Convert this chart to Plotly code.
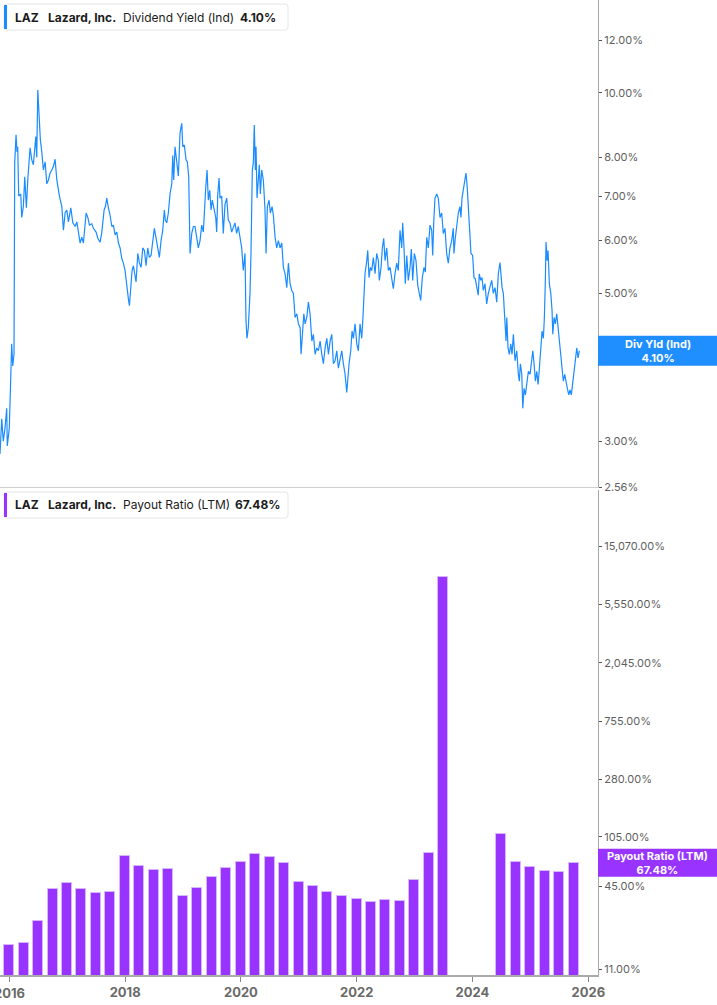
import math
import pandas as pd
import plotly.graph_objects as go

# ---------------- data ----------------
# Dividend yield (Ind), % — time stamps as decimal years
yield_t = [
    2015.839, 2015.869, 2015.896, 2015.926, 2015.955, 2015.965, 2016.000, 2016.024, 2016.041, 2016.059,
    2016.081, 2016.093, 2016.116, 2016.133, 2016.145, 2016.162, 2016.197, 2016.214, 2016.242, 2016.266,
    2016.294, 2016.318, 2016.358, 2016.387, 2016.415, 2016.456, 2016.473, 2016.491, 2016.508, 2016.535,
    2016.560, 2016.587, 2016.617, 2016.646, 2016.674, 2016.703, 2016.732, 2016.760, 2016.789, 2016.819,
    2016.864, 2016.905, 2016.933, 2016.962, 2016.991, 2017.019, 2017.060, 2017.095, 2017.135, 2017.164,
    2017.192, 2017.221, 2017.250, 2017.278, 2017.325, 2017.354, 2017.382, 2017.423, 2017.451, 2017.497,
    2017.527, 2017.567, 2017.596, 2017.636, 2017.658, 2017.682, 2017.710, 2017.739, 2017.769, 2017.796,
    2017.826, 2017.855, 2017.883, 2017.912, 2017.941, 2017.969, 2017.998, 2018.028, 2018.055, 2018.073,
    2018.097, 2018.119, 2018.142, 2018.166, 2018.188, 2018.218, 2018.245, 2018.275, 2018.304, 2018.332,
    2018.361, 2018.390, 2018.418, 2018.447, 2018.477, 2018.504, 2018.534, 2018.563, 2018.591, 2018.620,
    2018.649, 2018.677, 2018.694, 2018.718, 2018.746, 2018.775, 2018.805, 2018.822, 2018.839, 2018.862,
    2018.891, 2018.919, 2018.948, 2018.978, 2018.995, 2019.022, 2019.052, 2019.074, 2019.098, 2019.109,
    2019.121, 2019.150, 2019.178, 2019.207, 2019.237, 2019.264, 2019.294, 2019.323, 2019.351, 2019.368,
    2019.392, 2019.415, 2019.437, 2019.461, 2019.484, 2019.506, 2019.535, 2019.565, 2019.582, 2019.599,
    2019.622, 2019.639, 2019.668, 2019.696, 2019.725, 2019.755, 2019.782, 2019.812, 2019.841, 2019.869,
    2019.898, 2019.927, 2019.955, 2019.984, 2020.014, 2020.041, 2020.071, 2020.088, 2020.105, 2020.128,
    2020.157, 2020.174, 2020.197, 2020.214, 2020.231, 2020.249, 2020.261, 2020.278, 2020.301, 2020.318,
    2020.335, 2020.359, 2020.387, 2020.416, 2020.434, 2020.456, 2020.485, 2020.508, 2020.537, 2020.560,
    2020.589, 2020.618, 2020.646, 2020.675, 2020.705, 2020.732, 2020.762, 2020.791, 2020.819, 2020.848,
    2020.877, 2020.905, 2020.934, 2020.964, 2020.991, 2021.021, 2021.038, 2021.060, 2021.085, 2021.107,
    2021.136, 2021.164, 2021.193, 2021.223, 2021.250, 2021.280, 2021.309, 2021.337, 2021.366, 2021.396,
    2021.423, 2021.453, 2021.482, 2021.510, 2021.539, 2021.568, 2021.596, 2021.625, 2021.655, 2021.682,
    2021.712, 2021.741, 2021.769, 2021.798, 2021.827, 2021.845, 2021.867, 2021.896, 2021.919, 2021.941,
    2021.971, 2022.000, 2022.028, 2022.057, 2022.086, 2022.104, 2022.126, 2022.143, 2022.173, 2022.190,
    2022.212, 2022.235, 2022.259, 2022.287, 2022.316, 2022.345, 2022.373, 2022.390, 2022.420, 2022.442,
    2022.466, 2022.489, 2022.518, 2022.546, 2022.575, 2022.604, 2022.632, 2022.661, 2022.691, 2022.718,
    2022.748, 2022.777, 2022.794, 2022.817, 2022.839, 2022.864, 2022.891, 2022.921, 2022.943, 2022.967,
    2022.995, 2023.024, 2023.054, 2023.081, 2023.105, 2023.133, 2023.162, 2023.185, 2023.209, 2023.237,
    2023.266, 2023.295, 2023.313, 2023.330, 2023.352, 2023.382, 2023.409, 2023.439, 2023.468, 2023.496,
    2023.525, 2023.554, 2023.582, 2023.611, 2023.641, 2023.668, 2023.680, 2023.703, 2023.727, 2023.755,
    2023.784, 2023.801, 2023.819, 2023.841, 2023.870, 2023.888, 2023.910, 2023.934, 2023.957, 2023.974,
    2024.003, 2024.026, 2024.048, 2024.073, 2024.100, 2024.117, 2024.142, 2024.164, 2024.187, 2024.216,
    2024.245, 2024.273, 2024.302, 2024.332, 2024.359, 2024.389, 2024.418, 2024.446, 2024.475, 2024.492,
    2024.510, 2024.532, 2024.556, 2024.579, 2024.591, 2024.613, 2024.636, 2024.660, 2024.682, 2024.705,
    2024.734, 2024.763, 2024.791, 2024.808, 2024.826, 2024.850, 2024.867, 2024.889, 2024.912, 2024.936,
    2024.964, 2024.993, 2025.022, 2025.040, 2025.062, 2025.085, 2025.109, 2025.131, 2025.154, 2025.178,
    2025.200, 2025.223, 2025.240, 2025.257, 2025.269, 2025.287, 2025.304, 2025.326, 2025.351, 2025.373,
    2025.385, 2025.408, 2025.430, 2025.454, 2025.477, 2025.499, 2025.523, 2025.546, 2025.568, 2025.592,
    2025.615, 2025.637, 2025.662, 2025.684, 2025.706, 2025.731, 2025.753, 2025.776, 2025.800, 2025.822,
    2025.845,
]
yield_v = [
    2.87, 3.24, 3.00, 3.14, 3.36, 2.95, 3.14, 3.82, 4.20, 3.89,
    4.05, 7.85, 8.65, 8.15, 8.30, 7.00, 7.05, 6.50, 6.75, 7.48,
    6.72, 7.40, 8.27, 7.93, 7.80, 8.60, 8.00, 10.10, 9.20, 8.50,
    8.15, 7.66, 7.88, 7.30, 7.40, 7.58, 7.66, 7.75, 7.95, 7.40,
    7.00, 6.75, 6.22, 6.60, 6.67, 6.40, 6.72, 6.38, 6.30, 6.40,
    6.18, 5.95, 6.07, 5.95, 6.60, 6.50, 6.33, 6.36, 6.26, 6.18,
    6.05, 5.97, 6.18, 6.67, 6.75, 6.95, 6.72, 6.55, 6.30, 6.33,
    6.12, 6.18, 5.95, 5.85, 5.64, 5.55, 5.41, 5.08, 4.91, 4.79,
    5.10, 5.41, 5.50, 5.35, 5.20, 5.74, 5.56, 5.47, 5.85, 5.80,
    5.50, 5.85, 5.66, 5.70, 5.95, 6.26, 6.05, 5.85, 5.66, 6.00,
    6.22, 6.67, 6.44, 6.38, 6.60, 7.05, 7.30, 8.05, 7.40, 8.30,
    7.88, 7.50, 8.70, 9.00, 8.30, 8.35, 7.93, 7.88, 7.48, 6.44,
    5.74, 6.15, 6.30, 6.30, 6.07, 5.85, 6.00, 6.33, 6.18, 6.75,
    7.20, 7.66, 6.90, 7.14, 6.67, 6.90, 6.72, 6.50, 6.18, 7.00,
    7.45, 6.95, 7.00, 6.15, 6.80, 6.95, 6.44, 6.38, 6.18, 6.30,
    6.38, 6.15, 6.30, 6.07, 5.85, 5.41, 5.74, 4.55, 4.28, 4.44,
    5.00, 5.74, 7.66, 7.85, 8.95, 7.66, 8.30, 6.95, 7.48, 7.80,
    7.05, 7.66, 7.40, 6.67, 5.74, 6.75, 6.90, 6.60, 6.75, 6.55,
    6.07, 5.85, 6.00, 5.85, 5.95, 5.47, 5.35, 5.10, 5.55, 5.17,
    5.05, 5.00, 4.60, 4.66, 4.50, 4.44, 4.05, 4.39, 4.66, 4.50,
    4.60, 4.85, 4.66, 4.24, 4.34, 4.05, 4.14, 4.10, 4.24, 4.05,
    3.92, 4.14, 4.28, 4.05, 4.24, 4.34, 3.92, 3.96, 4.10, 3.86,
    4.00, 4.10, 3.92, 3.78, 3.55, 3.78, 3.92, 4.10, 4.39, 4.28,
    4.50, 4.20, 4.10, 4.50, 4.28, 4.55, 5.10, 5.35, 5.60, 5.80,
    5.28, 5.47, 5.41, 5.66, 5.35, 5.74, 5.60, 5.23, 5.47, 5.85,
    6.05, 5.60, 5.85, 5.41, 5.47, 5.28, 5.08, 5.35, 5.55, 5.41,
    6.22, 5.85, 6.38, 5.85, 5.17, 5.70, 5.23, 5.47, 5.83, 5.23,
    5.74, 5.60, 5.14, 5.00, 4.88, 5.28, 5.47, 5.38, 6.07, 5.85,
    6.33, 6.22, 5.70, 6.38, 6.95, 7.05, 6.95, 6.50, 6.60, 6.15,
    6.26, 5.74, 5.55, 5.85, 6.00, 6.26, 5.74, 6.05, 6.30, 6.60,
    6.75, 6.50, 6.95, 7.14, 7.30, 7.58, 7.20, 6.50, 6.22, 5.74,
    5.70, 5.28, 5.26, 5.08, 4.97, 5.35, 5.23, 5.28, 5.05, 5.17,
    4.82, 5.00, 5.10, 5.23, 5.00, 5.10, 4.85, 5.35, 5.56, 5.35,
    5.10, 5.00, 4.55, 4.24, 4.60, 4.14, 4.05, 4.20, 4.05, 4.34,
    3.96, 4.10, 3.78, 3.69, 3.92, 3.78, 3.36, 3.60, 3.52, 3.69,
    3.82, 3.78, 4.00, 4.10, 3.92, 3.69, 3.82, 3.65, 3.86, 4.14,
    4.39, 4.28, 4.60, 5.23, 5.97, 5.60, 5.80, 5.17, 5.00, 4.71,
    4.34, 4.60, 4.50, 4.66, 4.44, 4.20, 4.00, 3.86, 3.69, 3.78,
    3.65, 3.60, 3.52, 3.58, 3.52, 3.69, 3.86, 4.05, 4.14, 4.00,
    4.10,
]

# Payout ratio (LTM), %, quarterly
bar_dates = [
    "2015-12-31", "2016-03-31", "2016-06-30", "2016-09-30", "2016-12-31",
    "2017-03-31", "2017-06-30", "2017-09-30", "2017-12-31",
    "2018-03-31", "2018-06-30", "2018-09-30", "2018-12-31",
    "2019-03-31", "2019-06-30", "2019-09-30", "2019-12-31",
    "2020-03-31", "2020-06-30", "2020-09-30", "2020-12-31",
    "2021-03-31", "2021-06-30", "2021-09-30", "2021-12-31",
    "2022-03-31", "2022-06-30", "2022-09-30", "2022-12-31",
    "2023-03-31", "2023-06-30", "2023-09-30", "2023-12-31",
    "2024-03-31", "2024-06-30", "2024-09-30", "2024-12-31",
    "2025-03-31", "2025-06-30", "2025-09-30",
]
payout = [
    16.6, 17.1, 25.0, 43.1, 47.8,
    43.1, 40.3, 41.0, 75.8,
    63.9, 59.7, 60.7, 38.3,
    43.9, 52.9, 61.8, 68.4,
    78.5, 74.5, 67.3, 48.6,
    45.4, 41.0, 38.3, 36.4,
    34.5, 35.7, 35.1, 50.3,
    79.1, 8900.0, None, None,
    None, 110.3, 68.4, 62.8,
    58.7, 57.6, 67.48,
]

yield_tickvals = [2.56, 3, 4, 5, 6, 7, 8, 10, 12]
yield_ticktext = ["2.56%", "3.00%", "4.00%", "5.00%", "6.00%", "7.00%", "8.00%", "10.00%", "12.00%"]
payout_tickvals = [11, 45, 105, 280, 755, 2045, 5550, 15070]
payout_ticktext = ["11.00%", "45.00%", "105.00%", "280.00%", "755.00%",
                   "2,045.00%", "5,550.00%", "15,070.00%"]
x_tickyears = ["2016-01-01", "2018-01-01", "2020-01-01", "2022-01-01", "2024-01-01", "2026-01-01"]

last_yield = 4.10
last_payout = 67.48

# ---------------- styling / geometry ----------------
BLUE = "#1a8cff"
BLUE_BOX = "#1f8fff"
PURPLE = "#9933ff"
FONT = "Inter, Roboto, 'Noto Sans', sans-serif"

W, H = 717, 1005
ML, MR, MT, MB = 0, 119, 0, 30
PW, PH = W - ML - MR, H - MT - MB  # 598 x 975

TOP_DOM = [1 - 487 / PH, 1.0]
BOT_DOM = [0.0, 485 / PH]
TOP_RANGE = [math.log10(2.56), 1.1394]
BOT_RANGE = [0.9969, 4.5934]


def dec_to_ts(t):
    y = int(math.floor(t))
    a = pd.Timestamp(year=y, month=1, day=1)
    b = pd.Timestamp(year=y + 1, month=1, day=1)
    return a + (b - a) * (t - y)


def X(px):
    return px / PW


def Y(py):
    return (PH - py) / PH


def val_to_paper(v, dom, rng):
    return dom[0] + (math.log10(v) - rng[0]) / (rng[1] - rng[0]) * (dom[1] - dom[0])


def rrect_path(x0, y0, x1, y1, r):
    return (
        f"M {X(x0 + r)},{Y(y0)} L {X(x1 - r)},{Y(y0)} Q {X(x1)},{Y(y0)} {X(x1)},{Y(y0 + r)} "
        f"L {X(x1)},{Y(y1 - r)} Q {X(x1)},{Y(y1)} {X(x1 - r)},{Y(y1)} "
        f"L {X(x0 + r)},{Y(y1)} Q {X(x0)},{Y(y1)} {X(x0)},{Y(y1 - r)} "
        f"L {X(x0)},{Y(y0 + r)} Q {X(x0)},{Y(y0)} {X(x0 + r)},{Y(y0)} Z"
    )


yield_dates = [dec_to_ts(t) for t in yield_t]

fig = go.Figure()
fig.add_trace(go.Scatter(
    x=yield_dates, y=yield_v, mode="lines",
    line=dict(color=BLUE, width=1.2), xaxis="x", yaxis="y",
    hoverinfo="skip", showlegend=False,
))
fig.add_trace(go.Bar(
    x=pd.to_datetime(bar_dates), y=payout,
    marker=dict(color=PURPLE, line=dict(color="rgba(215,185,255,0.9)", width=1)),
    width=63 * 86400000, xaxis="x2", yaxis="y2",
    hoverinfo="skip", showlegend=False,
))

xrange = [dec_to_ts(2015.839), dec_to_ts(2026.167)]
tickfont_y = dict(family=FONT, size=11, color="#5f5f5f")
tickfont_x = dict(family=FONT, size=13, color="#6a6a6a", weight="bold")

fig.update_layout(
    width=W, height=H,
    margin=dict(l=ML, r=MR, t=MT, b=MB, autoexpand=False),
    paper_bgcolor="white", plot_bgcolor="white",
    font=dict(family=FONT),
    bargap=0,
    xaxis=dict(domain=[0, 1], anchor="y", type="date", range=xrange,
               showticklabels=False, showgrid=False, zeroline=False,
               showline=True, linecolor="#cfcfcf", linewidth=1, ticks=""),
    yaxis=dict(domain=TOP_DOM, anchor="x", side="right", type="log", range=TOP_RANGE,
               tickvals=yield_tickvals, ticktext=yield_ticktext, tickfont=tickfont_y,
               showgrid=False, zeroline=False, showline=True, linecolor="#a8a8a8", linewidth=1,
               ticks="outside", ticklen=3, tickcolor="#555", tickwidth=1),
    xaxis2=dict(domain=[0, 1], anchor="y2", type="date", range=xrange, matches="x",
                tickvals=pd.to_datetime(x_tickyears), tickformat="%Y", tickfont=tickfont_x,
                showgrid=False, zeroline=False, showline=True, linecolor="#aaaaaa", linewidth=1.5,
                ticks="outside", ticklen=5, tickcolor="#888", tickwidth=1),
    yaxis2=dict(domain=BOT_DOM, anchor="x2", side="right", type="log", range=BOT_RANGE,
                tickvals=payout_tickvals, ticktext=payout_ticktext, tickfont=tickfont_y,
                showgrid=False, zeroline=False, showline=True, linecolor="#a8a8a8", linewidth=1,
                ticks="outside", ticklen=3, tickcolor="#555", tickwidth=1),
)

shapes = []
annotations = []

# first year label, partly cut by the left edge (plotly hides it otherwise)
annotations.append(dict(xref="x2", yref="paper", x=pd.Timestamp(x_tickyears[0]), y=Y(993),
                        xanchor="center", yanchor="middle", showarrow=False,
                        text=x_tickyears[0][:4], font=tickfont_x))


def title_box(y_top, y_bot, color, metric, value, value_x):
    shapes.append(dict(type="path", xref="paper", yref="paper",
                       path=rrect_path(4, y_top, 288, y_bot, 3),
                       fillcolor="white", line=dict(color="#e6e6e6", width=1), layer="above"))
    shapes.append(dict(type="rect", xref="paper", yref="paper",
                       x0=X(4), x1=X(7), y0=Y(y_bot - 1), y1=Y(y_top + 1),
                       fillcolor=color, line=dict(width=0), layer="above"))
    yc = Y((y_top + y_bot) / 2)
    items = [(13, "<b>LAZ</b>"), (46, "<b>Lazard, Inc.</b>"), (121, metric), (value_x, f"<b>{value}</b>")]
    for xpx, txt in items:
        annotations.append(dict(xref="paper", yref="paper", x=X(xpx), y=yc,
                                xanchor="left", yanchor="middle", showarrow=False, text=txt,
                                font=dict(family=FONT, size=12, color="#1c1c1c")))


title_box(4, 30, BLUE, "Dividend Yield (Ind)", f"{last_yield:.2f}%", 238)
title_box(492, 518, PURPLE, "Payout Ratio (LTM)", f"{last_payout:.2f}%", 233)


def value_box(yc, color, label, value, half_h):
    dh = half_h / PH
    shapes.append(dict(type="rect", xref="paper", yref="paper",
                       x0=1.0, x1=W / PW, y0=yc - dh, y1=yc + dh,
                       fillcolor=color, line=dict(width=0), layer="above"))
    annotations.append(dict(xref="paper", yref="paper", x=(PW + W) / 2 / PW, y=yc,
                            xanchor="center", yanchor="middle", showarrow=False,
                            text=f"<b>{label}</b><br><b>{value}</b>",
                            font=dict(family=FONT, size=11, color="white")))


value_box(val_to_paper(last_yield, TOP_DOM, TOP_RANGE), BLUE_BOX, "Div Yld (Ind)", f"{last_yield:.2f}%", 15)
value_box(val_to_paper(last_payout, BOT_DOM, BOT_RANGE), PURPLE, "Payout Ratio (LTM)", f"{last_payout:.2f}%", 14)

fig.update_layout(shapes=shapes, annotations=annotations)

fig.write_html(
    "out.html",
    config={"displayModeBar": False},
    post_script="document.body.style.margin='0px';document.body.style.overflow='hidden';",
)
